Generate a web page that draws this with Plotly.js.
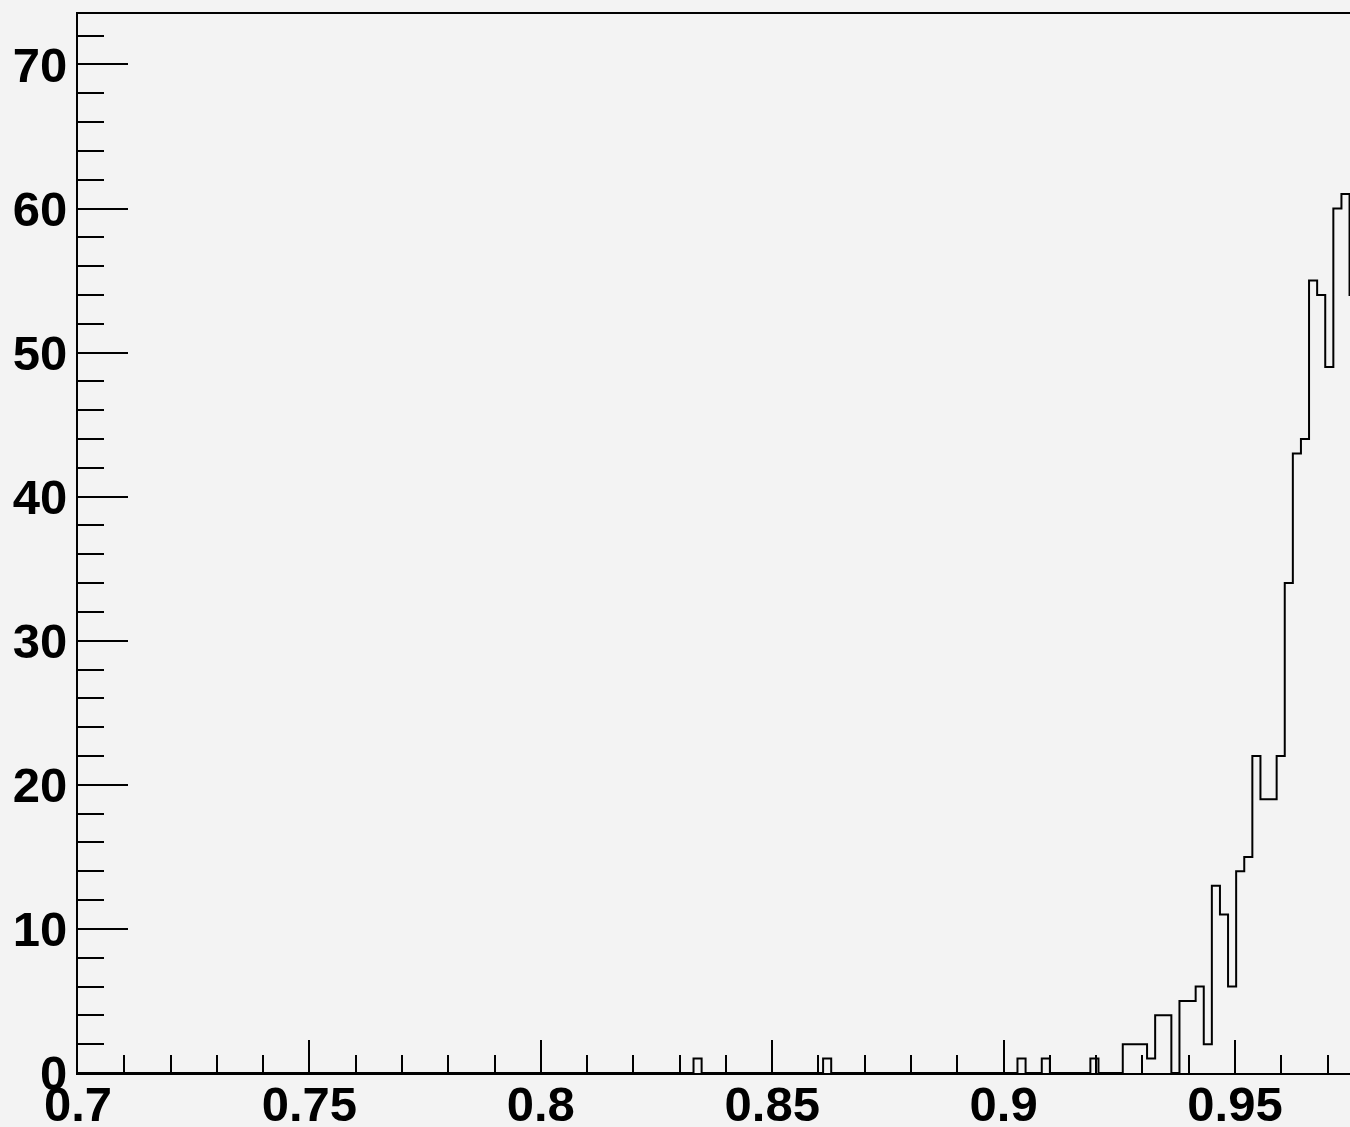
<!DOCTYPE html>
<html>
<head>
<meta charset="utf-8">
<script src="https://cdn.plot.ly/plotly-3.0.1.min.js"></script>
<style>
html, body { margin: 0; padding: 0; background: #f3f3f3; overflow: hidden; }
#chart { width: 1350px; height: 1127px; }
</style>
</head>
<body>
<div id="chart"></div>
<script>
// Histogram data (bin width 0.00175, low edges of non-empty bins)
const binWidth = 0.00175;
const binLow = [0.833, 0.861, 0.903, 0.90825, 0.91875,
  0.92575, 0.9275, 0.92925, 0.931, 0.93275, 0.9345, 0.93625, 0.938, 0.93975, 0.9415,
  0.94325, 0.945, 0.94675, 0.9485, 0.95025, 0.952, 0.95375, 0.9555, 0.95725, 0.959,
  0.96075, 0.9625, 0.96425, 0.966, 0.96775, 0.9695, 0.97125, 0.973, 0.97475];
const counts = [1, 1, 1, 1, 1,
  2, 2, 2, 1, 4, 4, 0, 5, 5, 6,
  2, 13, 11, 6, 14, 15, 22, 19, 19, 22,
  34, 43, 44, 55, 54, 49, 60, 61, 54];

const xTickVals = [0.7, 0.75, 0.8, 0.85, 0.9, 0.95];
const xTickText = ["0.7", "0.75", "0.8", "0.85", "0.9", "0.95"];
const yTickVals = [0, 10, 20, 30, 40, 50, 60, 70];
const yTickText = ["0", "10", "20", "30", "40", "50", "60", "70"];

// Build step outline (ROOT-style histogram contour)
const xs = [0.7], ys = [0];
let prevHigh = null;
for (let i = 0; i < binLow.length; i++) {
  const lo = binLow[i];
  if (prevHigh !== null && Math.abs(prevHigh - lo) > 1e-9) { xs.push(prevHigh); ys.push(0); }
  xs.push(lo); ys.push(counts[i]);
  prevHigh = lo + binWidth;
}
xs.push(prevHigh); ys.push(0);

const font = { family: "Liberation Sans, Arial, Helvetica, sans-serif", size: 49, color: "#000", weight: "bold" };

const trace = {
  type: "scatter", mode: "lines", x: xs, y: ys,
  line: { shape: "hv", color: "#000", width: 2 },
  hoverinfo: "skip", cliponaxis: true
};

const layout = {
  width: 1350, height: 1127,
  margin: { l: 78, r: 0, t: 14, b: 54, pad: 0 },
  paper_bgcolor: "#f3f3f3", plot_bgcolor: "#f3f3f3",
  showlegend: false,
  xaxis: {
    range: [0.7, 0.97485], showgrid: false, zeroline: false,
    showline: true, linecolor: "#000", linewidth: 2, mirror: true,
    tickmode: "array", tickvals: xTickVals, ticktext: xTickText,
    ticks: "inside", ticklen: 33, tickwidth: 2, tickcolor: "#000",
    minor: { dtick: 0.01, tick0: 0.7, ticks: "inside", ticklen: 18, tickwidth: 2, tickcolor: "#000", showgrid: false },
    tickfont: font, ticklabelstandoff: -13
  },
  yaxis: {
    range: [0, 73.5], showgrid: false, zeroline: false,
    showline: true, linecolor: "#000", linewidth: 2, mirror: false,
    tickmode: "array", tickvals: yTickVals, ticktext: yTickText,
    ticks: "inside", ticklen: 50, tickwidth: 2, tickcolor: "#000",
    minor: { dtick: 2, tick0: 0, ticks: "inside", ticklen: 26, tickwidth: 2, tickcolor: "#000", showgrid: false },
    tickfont: font, ticklabelstandoff: -1
  }
};

Plotly.newPlot("chart", [trace], layout, { staticPlot: true, displayModeBar: false });
</script>
</body>
</html>
